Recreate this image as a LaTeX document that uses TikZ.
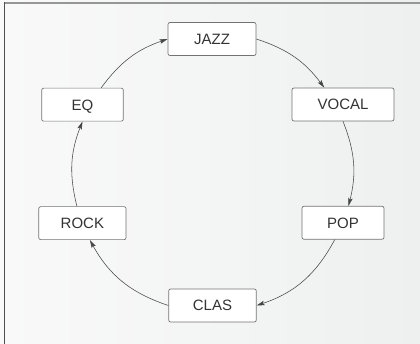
\documentclass[tikz,border=0pt]{standalone}
\usepackage{fontspec}
\setmainfont{Liberation Sans}
\usetikzlibrary{arrows.meta}
\definecolor{bgA}{RGB}{249,249,249}
\definecolor{bgB}{RGB}{238,240,240}
\definecolor{boxline}{RGB}{115,115,115}
\definecolor{txt}{RGB}{51,51,51}
\definecolor{edge}{RGB}{70,70,70}
\definecolor{frameT}{RGB}{150,150,150}
\definecolor{frameL}{RGB}{80,80,80}
\begin{document}
\begin{tikzpicture}[x=1pt,y=-1pt,
  box/.style={draw=boxline, fill=white, rounded corners=2pt, line width=0.7pt,
    minimum height=33pt, inner sep=0pt, text=txt,
    text height=10.8pt, text depth=0pt,
    font=\fontsize{15}{18}\selectfont},
  link/.style={draw=edge, line width=0.55pt,
    -{Stealth[length=8pt,width=4.5pt,inset=1.5pt]}}]
\useasboundingbox (0,0) rectangle (420,344);
\fill[white] (0,0) rectangle (420,344);
\shade[left color=bgA, right color=bgB] (0,0) rectangle (420,344);
\draw[frameT, line width=1.6pt] (4.3,3) -- (420,3);
\draw[frameL, line width=1.2pt] (4.3,2.2) -- (4.3,344);
\node[box, minimum width=88pt] (jazz) at (212,39) {JAZZ};
\node[box, minimum width=102pt] (vocal) at (343,104.5) {VOCAL};
\node[box, minimum width=82pt] (pop) at (343,222.75) {POP};
\node[box, minimum width=87.6pt] (clas) at (212.5,305.5) {CLAS};
\node[box, minimum width=87.3pt] (rock) at (82.4,223.15) {ROCK};
\node[box, minimum width=81.6pt] (eq) at (82.5,104.65) {EQ};
\draw[link] (jazz.east) to[bend left=17.5] (vocal.138.3);
\draw[link] (vocal.south) to[bend left=17.9] (pop.72.3);
\draw[link] (pop.244.9) to[bend left=21.6] (clas.east);
\draw[link] (clas.west) to[bend left=21.4] (rock.294.6);
\draw[link] (rock.108.4) to[bend left=17.8] (eq.south);
\draw[link] (eq.42.6) to[bend left=17.4] (jazz.west);
\end{tikzpicture}
\end{document}
